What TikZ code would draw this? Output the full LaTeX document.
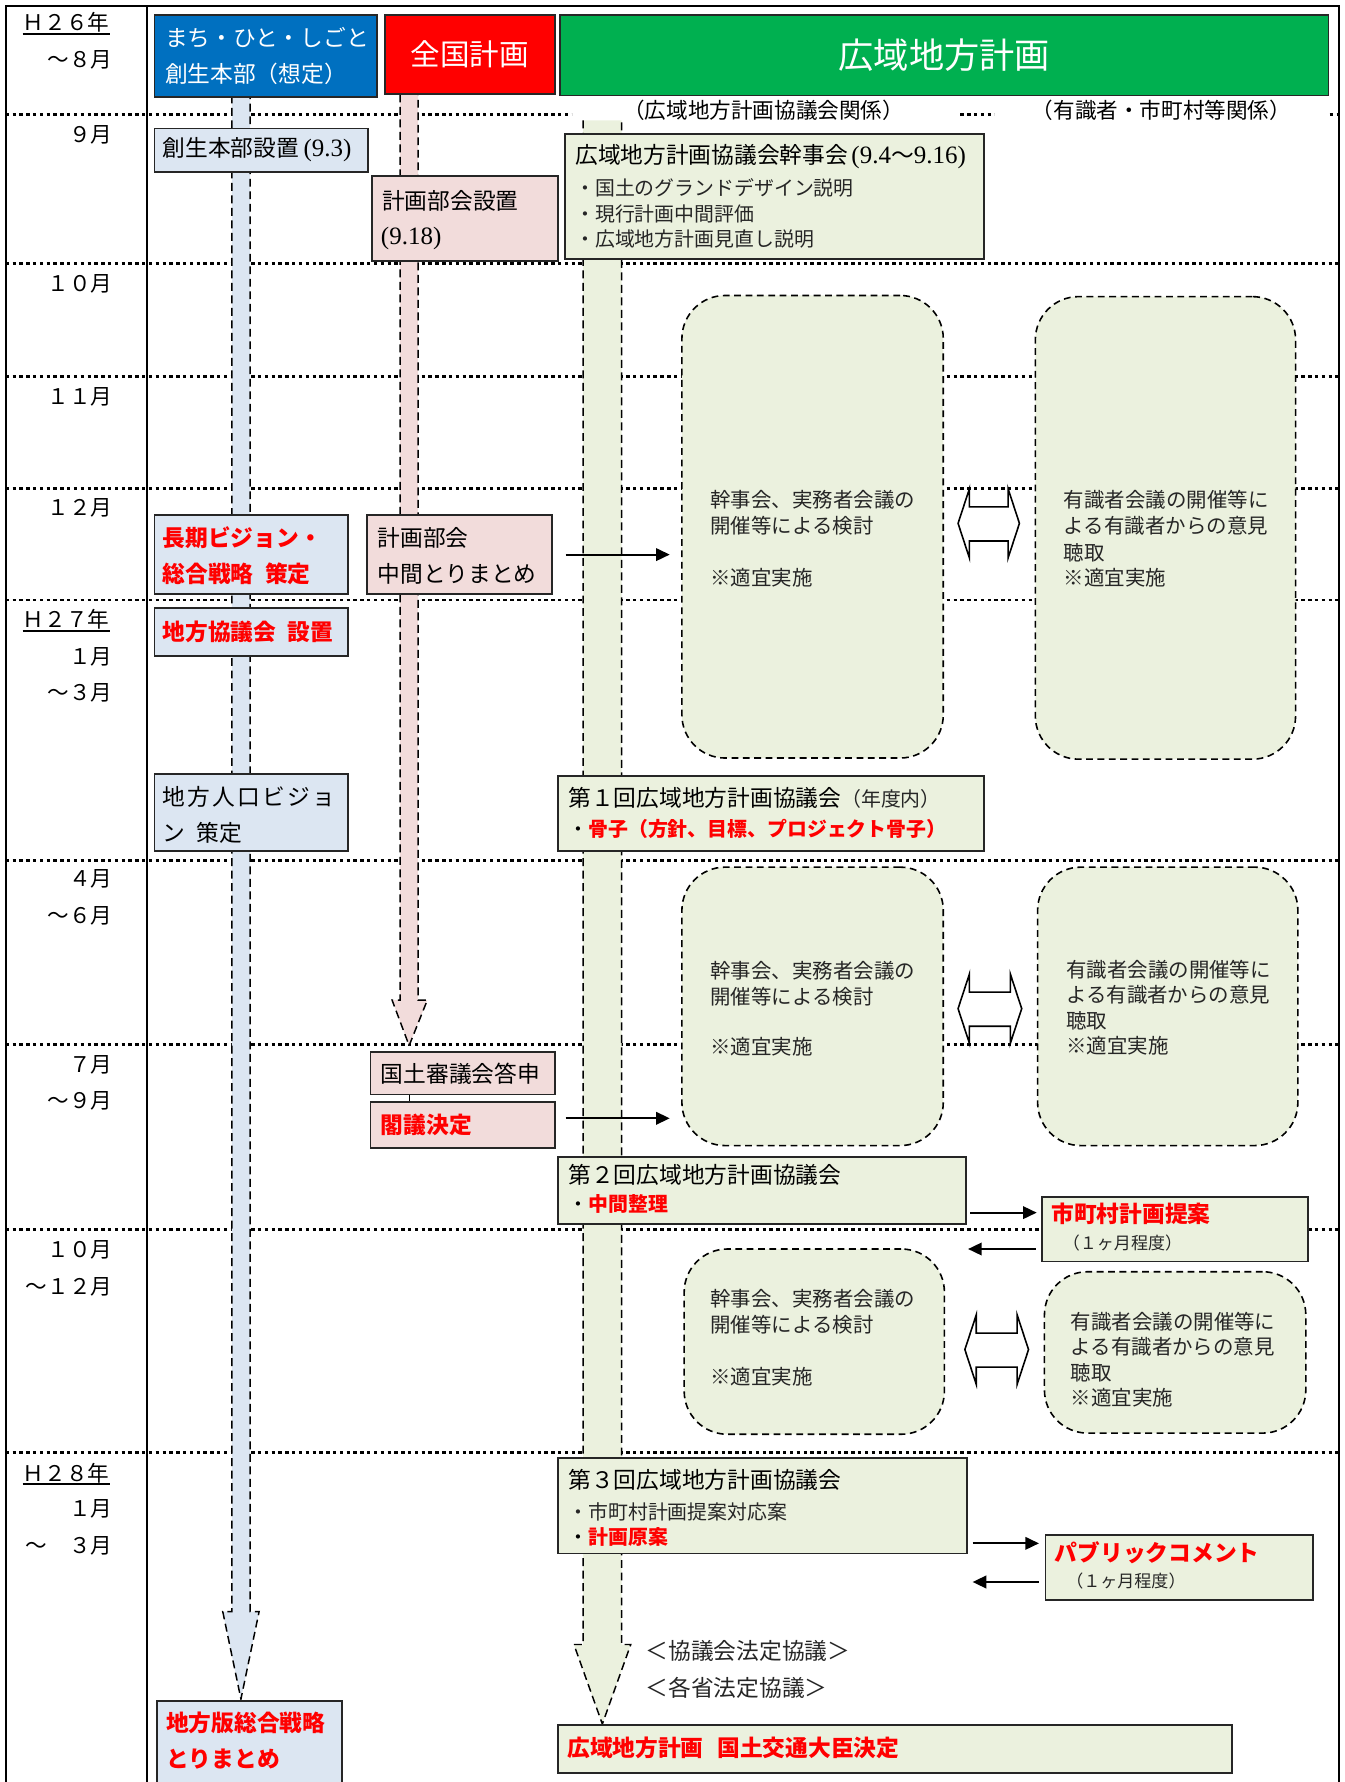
\documentclass[tikz,border=0pt]{standalone}
\usepackage{fontspec}
\setmainfont{Noto Sans CJK JP}
\newfontfamily\tms{Liberation Serif}
\usetikzlibrary{arrows.meta,fit}
\definecolor{lblue}{HTML}{DCE6F2}
\definecolor{lpink}{HTML}{F2DCDB}
\definecolor{lgreen}{HTML}{EBF1DE}
\definecolor{hblue}{HTML}{0070C0}
\definecolor{hred}{HTML}{FF0000}
\definecolor{hgreen}{HTML}{00B050}
\definecolor{rtxt}{HTML}{FF0000}
\newcommand\fs[1]{\fontsize{#1}{#1}\selectfont}
\newcommand\dblarr[4]{\draw[dblarrow] (#1,{(#3+#4)/2}) -- (#1+10,#3) -- (#1+10,#3+16) -- (#2-10,#3+16) -- (#2-10,#3) -- (#2,{(#3+#4)/2}) -- (#2-10,#4) -- (#2-10,#4-15) -- (#1+10,#4-15) -- (#1+10,#4) -- cycle;}
\begin{document}
\begin{tikzpicture}[x=1pt,y=-1pt,
  hline/.style={line width=2.4pt, dash pattern=on 3pt off 3pt},
  frameline/.style={line width=1.8pt},
  bbox/.style={draw=black!85, line width=1.6pt, inner sep=0pt},
  bluebox/.style={bbox, fill=lblue},
  pinkbox/.style={bbox, fill=lpink},
  greenbox/.style={bbox, fill=lgreen},
  dashbox/.style={draw=black, dash pattern=on 6pt off 4pt, line width=1.4pt, fill=lgreen, rounded corners=38pt, inner sep=0pt},
  shaft/.style={draw=black, line width=1.3pt, dash pattern=on 7pt off 4pt},
  dblarrow/.style={draw=black, line width=1.4pt, fill=white},
  txt/.style={anchor=west, inner sep=0pt, font=\fs{20}},
  mtxt/.style={anchor=west, inner sep=0pt, font=\fs{18}, text=black!85},
  btxt/.style={anchor=west, inner sep=0pt, font=\fs{17.5}, text=black!85},
  rb/.style={anchor=west, inner sep=0pt, text=rtxt, font=\fs{20}\bfseries},
  lab/.style={anchor=east, inner sep=0pt, font=\fs{19}},
  yr/.style={anchor=west, inner sep=0pt, font=\fs{19}},
  uline/.style={line width=1.6pt},
  arr/.style={line width=1.8pt, -{Triangle[length=12pt,width=11pt]}},
  ]
\useasboundingbox (0,0) rectangle (1183,1568);

% horizontal dotted lines
\draw[hline] (5,101) -- (503,101);
\draw[hline] (845,101) -- (875,101);
\draw[hline] (1170,101) -- (1178,101);
\foreach \yy in {232,331,430,528,757,919,1082,1278} \draw[hline] (5,\yy) -- (1178,\yy);

% frame
\draw[frameline] (5,1590) -- (5,5) -- (1178,5) -- (1178,1590);
\draw[frameline] (129,5) -- (129,1590);

% shafts
\draw[shaft, fill=lblue] (204,84) -- (204,1418) -- (196,1418) -- (212,1495) -- (228,1418) -- (220,1418) -- (220,84);
\draw[shaft, fill=lpink] (352,83) -- (352,880) -- (345,880) -- (360,920) -- (376,880) -- (368,880) -- (368,83);
\draw[shaft, fill=lgreen] (513,106) -- (513,1447) -- (505,1447) -- (530,1517) -- (555,1447) -- (547,1447) -- (547,106);

% headers
\node[bbox, fill=hblue, fit={(136,13)(332,85)}] (hA) {};
\node[bbox, fill=hred, fit={(339,13)(488,83)}] (hB) {};
\node[bbox, fill=hgreen, fit={(493,13)(1169,84)}] (hC) {};
\node[txt, text=white] (hA1) at (145,33) {まち・ひと・しごと};
\node[txt, text=white] (hA2) at (145,65) {創生本部（想定）};
\node[inner sep=0pt, text=white, font=\fs{26}] (hB1) at (hB.center) {全国計画};
\node[inner sep=0pt, text=white, font=\fs{31}] (hC1) at (hC.center) {広域地方計画};

\node[inner sep=0pt, font=\fs{19}] (sh1) at (672,97) {（広域地方計画協議会関係）};
\node[inner sep=0pt, font=\fs{19}] (sh2) at (1022,97) {（有識者・市町村等関係）};

% left labels
\node[yr] (y26) at (20,20) {Ｈ２６年};
\draw[uline] ([yshift=-1pt]y26.south west) -- ([yshift=-1pt]y26.south east);
\node[lab] (m1) at (99,53) {～８月};
\node[lab] (m2) at (99,119) {９月};
\node[lab] (m3) at (99,250) {１０月};
\node[lab] (m4) at (99,349) {１１月};
\node[lab] (m5) at (99,447) {１２月};
\node[yr] (y27) at (20,545) {Ｈ２７年};
\draw[uline] ([yshift=-1pt]y27.south west) -- ([yshift=-1pt]y27.south east);
\node[lab] (m6) at (99,578) {１月};
\node[lab] (m7) at (99,610) {～３月};
\node[lab] (m8) at (99,773) {４月};
\node[lab] (m9) at (99,806) {～６月};
\node[lab] (m10) at (99,937) {７月};
\node[lab] (m11) at (99,969) {～９月};
\node[lab] (m12) at (99,1100) {１０月};
\node[lab] (m13) at (99,1132) {～１２月};
\node[yr] (y28) at (20,1296) {Ｈ２８年};
\draw[uline] ([yshift=-1pt]y28.south west) -- ([yshift=-1pt]y28.south east);
\node[lab] (m14) at (99,1328) {１月};
\node[lab] (m15) at (99,1360) {～　３月};

% September row
\node[bluebox, fit={(136,113)(324,151)}] (b1) {};
\node[txt] (b1t) at (143,132) {創生本部設置\hspace{4pt}{\tms\fs{22}(9.3)}};
\node[pinkbox, fit={(327,155)(491,230)}] (p1) {};
\node[txt] (p1a) at (336,177) {計画部会設置};
\node[txt] (p1b) at (333,210) {\hspace{2pt}{\tms\fs{22}(9.18)}};
\node[greenbox, fit={(497,118)(866,228)}] (g1) {};
\node[txt] (g1a) at (506,138) {広域地方計画協議会幹事会\hspace{3pt}{\tms\fs{22}(9.4}～{\tms\fs{22}9.16)}};
\node[btxt] (g1b) at (506,165) {・国土のグランドデザイン説明};
\node[btxt] (g1c) at (506,188) {・現行計画中間評価};
\node[btxt] (g1d) at (506,210) {・広域地方計画見直し説明};

% dashed rounded boxes
\node[dashbox, fit={(600,260)(830,667)}] (dA1) {};
\node[dashbox, fit={(911,261)(1140,668)}] (dA2) {};
\node[mtxt] (dA1a) at (625,440) {幹事会、実務者会議の};
\node[mtxt] (dA1b) at (625,463) {開催等による検討};
\node[mtxt] (dA1c) at (625,508) {※適宜実施};
\node[mtxt] (dA2a) at (936,440) {有識者会議の開催等に};
\node[mtxt] (dA2b) at (936,463) {よる有識者からの意見};
\node[mtxt] (dA2c) at (936,486) {聴取};
\node[mtxt] (dA2d) at (936,508) {※適宜実施};
\dblarr{843}{897}{430}{491}

\node[dashbox, fit={(600,763)(830,1008)}] (dB1) {};
\node[dashbox, fit={(913,763)(1142,1008)}] (dB2) {};
\node[mtxt] (dB1a) at (625,854) {幹事会、実務者会議の};
\node[mtxt] (dB1b) at (625,877) {開催等による検討};
\node[mtxt] (dB1c) at (625,921) {※適宜実施};
\node[mtxt] (dB2a) at (938,853) {有識者会議の開催等に};
\node[mtxt] (dB2b) at (938,875) {よる有識者からの意見};
\node[mtxt] (dB2c) at (938,898) {聴取};
\node[mtxt] (dB2d) at (938,920) {※適宜実施};
\dblarr{843}{899}{857}{918}

\node[dashbox, fit={(602,1099)(831,1262)}] (dC1) {};
\node[dashbox, fit={(919,1119)(1149,1261)}] (dC2) {};
\node[mtxt] (dC1a) at (625,1143) {幹事会、実務者会議の};
\node[mtxt] (dC1b) at (625,1166) {開催等による検討};
\node[mtxt] (dC1c) at (625,1211) {※適宜実施};
\node[mtxt] (dC2a) at (942,1163) {有識者会議の開催等に};
\node[mtxt] (dC2b) at (942,1185) {よる有識者からの意見};
\node[mtxt] (dC2c) at (942,1208) {聴取};
\node[mtxt] (dC2d) at (942,1230) {※適宜実施};
\dblarr{849}{905}{1157}{1218}

% December row
\node[bluebox, fit={(136,453)(306,523)}] (b2) {};
\node[rb] (b2a) at (143,473) {長期ビジョン・};
\node[rb] (b2b) at (143,505) {総合戦略\hspace{10pt}策定};
\node[pinkbox, fit={(323,453)(486,523)}] (p2) {};
\node[txt] (p2a) at (332,473) {計画部会};
\node[txt] (p2b) at (332,505) {中間とりまとめ};
\draw[arr, shorten <=11pt, shorten >=10pt] (p2.east) -- (p2.east -| dA1.west);

% H27
\node[bluebox, fit={(136,535)(306,577)}] (b3) {};
\node[rb] (b3a) at (143,556) {地方協議会\hspace{10pt}設置};
\node[bluebox, fit={(136,681)(306,749)}] (b4) {};
\node[txt] (b4a) at (143,701) {\addfontfeature{LetterSpace=10}地方人口ビジョ};
\node[txt] (b4b) at (143,733) {ン\hspace{10pt}策定};
\node[greenbox, fit={(491,683)(866,749)}] (g2) {};
\node[txt] (g2a) at (500,702) {第１回広域地方計画協議会{\color{black!85}\fs{17.5}（年度内）}};
\node[txt, font=\fs{17.5}] (g2b) at (500,729) {・{\color{rtxt}\bfseries 骨子（方針、目標、プロジェクト骨子）}};

% Jul-Sep
\node[pinkbox, fit={(326,926)(488,963)}] (p3) {};
\node[txt] (p3a) at (335,945) {国土審議会答申};
\node[pinkbox, fit={(326,970)(488,1010)}] (p4) {};
\node[rb] (p4a) at (335,990) {閣議決定};
\coordinate (pk) at (360,0);
\draw[line width=1pt] (p3.south -| pk) -- (p4.north -| pk);
\draw[arr, shorten <=9pt, shorten >=10pt] ([yshift=6pt]p4.east) -- ([yshift=6pt]p4.east -| dB1.west);

\node[greenbox, fit={(491,1018)(850,1077)}] (g3) {};
\node[txt] (g3a) at (500,1034) {第２回広域地方計画協議会};
\node[txt, font=\fs{17.5}] (g3b) at (500,1059) {・{\color{rtxt}\bfseries 中間整理}};
\node[greenbox, fit={(917,1053)(1151,1110)}] (s1) {};
\node[rb] (s1a) at (925,1068) {市町村計画提案};
\node[txt, font=\fs{15}, text=black!85] (s1b) at (935,1094) {（１ヶ月程度）};
\coordinate (a3) at (0,1067);
\coordinate (a4) at (0,1099);
\draw[arr, shorten <=3pt, shorten >=4pt] (g3.east |- a3) -- (s1.west |- a3);
\draw[arr, shorten <=5pt, shorten >=1pt] (s1.west |- a4) -- (g3.east |- a4);

% H28
\node[greenbox, fit={(491,1283)(851,1367)}] (g4) {};
\node[txt] (g4a) at (500,1302) {第３回広域地方計画協議会};
\node[btxt] (g4b) at (500,1330) {・市町村計画提案対応案};
\node[txt, font=\fs{17.5}] (g4c) at (500,1352) {・{\color{rtxt}\bfseries 計画原案}};
\node[greenbox, fit={(920,1351)(1155,1408)}] (pc) {};
\node[rb] (pca) at (928,1366) {パブリックコメント};
\node[txt, font=\fs{15}, text=black!85] (pcb) at (938,1391) {（１ヶ月程度）};
\coordinate (a5) at (0,1358);
\coordinate (a6) at (0,1392);
\draw[arr, shorten <=4pt, shorten >=5pt] (g4.east |- a5) -- (pc.west |- a5);
\draw[arr, shorten <=5pt, shorten >=4pt] (pc.west |- a6) -- (g4.east |- a6);

\node[mtxt, font=\fs{20}] (kg1) at (568,1453) {＜協議会法定協議＞};
\node[mtxt, font=\fs{20}] (kg2) at (568,1485) {＜各省法定協議＞};

\node[bluebox, fit={(138,1497)(301,1580)}] (b5) {};
\node[rb] (b5a) at (146,1516) {地方版総合戦略};
\node[rb] (b5b) at (146,1548) {とりまとめ};
\node[greenbox, fit={(491,1518)(1084,1560)}] (g5) {};
\node[rb] (g5a) at (499,1538) {広域地方計画\hspace{12pt}国土交通大臣決定};
\end{tikzpicture}
\end{document}
